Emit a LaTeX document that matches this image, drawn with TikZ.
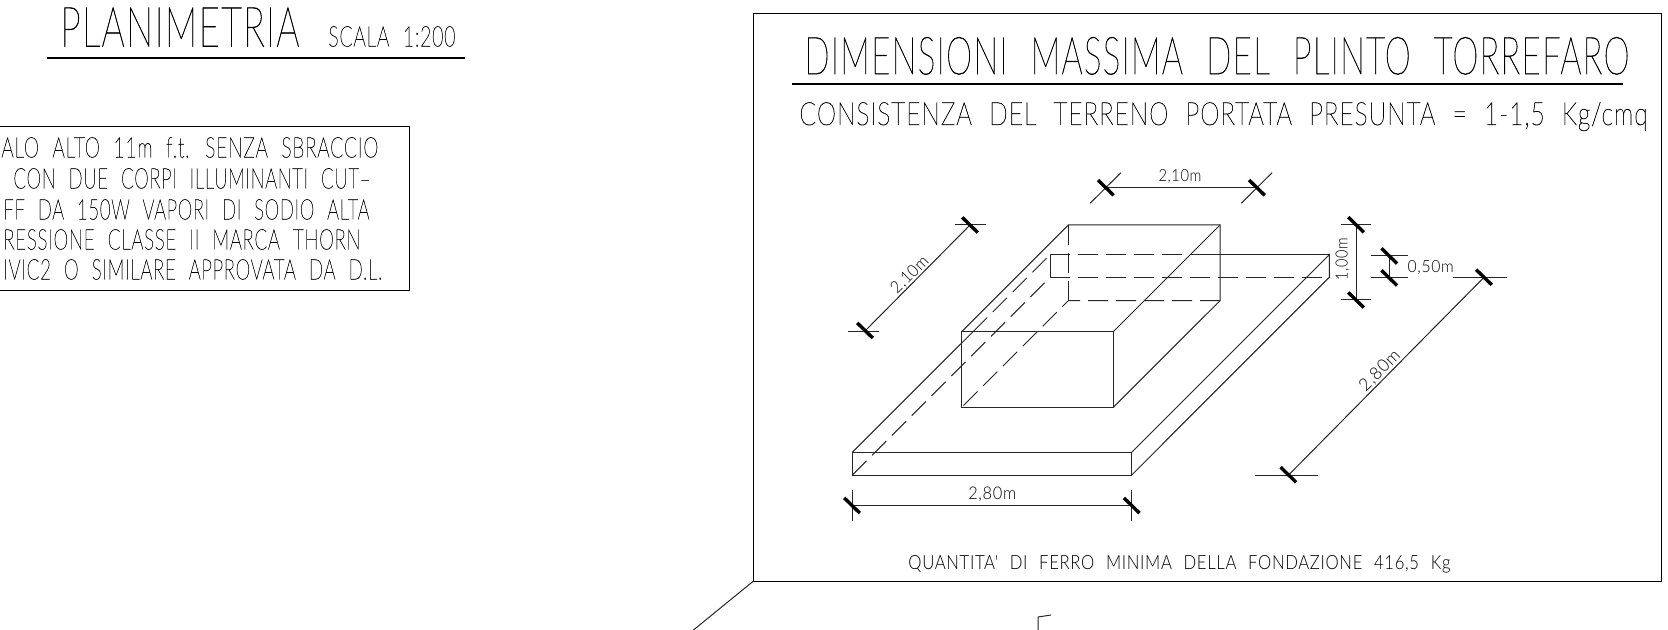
\documentclass[tikz,border=0pt]{standalone}
\usepackage{fontspec}
\usepackage{graphicx}
\newfontfamily\cadfont[LetterSpace=4.0,FakeBold=1.2]{Lato Thin}
\newfontfamily\cadlabelfont[LetterSpace=4.0]{Lato Light}
\newdimen\cadu
\cadu=.5pt
% width, height in reference pixels, then the text
\newcommand{\cadtxt}[3]{\resizebox{#1\cadu}{#2\cadu}{\cadfont\spaceskip=.7em #3}}
\newcommand{\cadlab}[3]{\resizebox{#1\cadu}{#2\cadu}{\cadlabelfont\spaceskip=.7em #3}}
\tikzset{
    thinline/.style={line width=.5pt,black!85},
    heavyline/.style={line width=.8pt,black},
    frameline/.style={line width=.5pt,black},
    dashline/.style={thinline,dash pattern=on 10pt off 4pt},
    tickmark/.style={line width=1.7pt,black},
    label/.style={inner sep=0pt,text=black}
}
\begin{document}
\begin{tikzpicture}[x=.5pt,y=-.5pt]
    \clip (0,0) rectangle (1668,630);
    \fill [white] (0,0) rectangle (1668,630);
    % Left title and note
    \node[label,anchor=south west] (plantitle) at (60,47) {\cadtxt{239}{39}{PLANIMETRIA}};
    \node[label,anchor=south west] (planscale) at (328,47) {\cadtxt{127}{20}{SCALA 1:200}};
    \draw[heavyline] (47,58) -- (465,58);
    \draw[frameline] (-5,127) -- (409,127) -- (409,290.5) -- (-5,290.5);
    \node[label,anchor=south west] (noteA) at (1,158) {\cadtxt{377}{20}{ALO ALTO 11m f.t. SENZA SBRACCIO}};
    \node[label,anchor=south west] (noteB) at (13,189) {\cadtxt{357}{20}{CON DUE CORPI ILLUMINANTI CUT–}};
    \node[label,anchor=south west] (noteC) at (3,220) {\cadtxt{366}{20}{FF DA 150W VAPORI DI SODIO ALTA}};
    \node[label,anchor=south west] (noteD) at (3,250) {\cadtxt{357}{20}{RESSIONE CLASSE II MARCA THORN}};
    \node[label,anchor=south west] (noteE) at (3,280) {\cadtxt{379}{20}{IVIC2 O SIMILARE APPROVATA DA D.L.}};
    % Frame of the plinth table
    \draw[frameline] (753.5,14) rectangle (1661,581);
    \draw[thinline] (753.5,581) -- (691,632);
    \draw[thinline] (1051,615) -- (1038,617) -- (1038,632);
    \node[label,anchor=south west] (tabletitle) at (804,75) {\cadtxt{825}{37}{DIMENSIONI MASSIMA DEL PLINTO TORREFARO}};
    \draw[heavyline] (791.5,84) -- (1623,84);
    \node[label,anchor=base west] (tablesoil) at (799,125) {\cadtxt{848}{23}{CONSISTENZA DEL TERRENO PORTATA PRESUNTA = 1-1,5 Kg/cmq}};
    \node[label,anchor=base west] (tableiron) at (908,569) {\cadlab{542}{14}{QUANTITA' DI FERRO MINIMA DELLA FONDAZIONE 416,5 Kg}};
    % Slab
    \coordinate (slabA) at (852.3,452.3);
    \coordinate (slabB) at (1131.7,452.3);
    \coordinate (slabC) at (1131.7,475);
    \coordinate (slabD) at (852.3,475);
    \coordinate (slabE) at (1329.3,254.7);
    \coordinate (slabF) at (1329.3,277.3);
    \coordinate (slabG) at (1050,254.7);
    \coordinate (slabH) at (1050,277.3);
    \draw[thinline] (slabA) -- (slabB) -- (slabC) -- (slabD) -- cycle;
    \draw[thinline] (slabA) -- (973,331.7);
    \draw[dashline] (973,331.7) -- (slabG);
    \draw[dashline] (slabD) -- (slabH);
    \draw[thinline] (slabB) -- (slabE) -- (slabF) -- (slabC);
    \draw[thinline] (slabG) -- (slabH);
    \draw[dashline] (slabG) -- (1190,254.7);
    \draw[thinline] (1190,254.7) -- (slabE);
    \draw[dashline] (slabH) -- (slabF);
    % Pillar
    \coordinate (pierA) at (961.7,331.7);
    \coordinate (pierB) at (1113.3,331.7);
    \coordinate (pierC) at (1113.3,407.3);
    \coordinate (pierD) at (961.7,407.3);
    \coordinate (pierE) at (1068.3,225);
    \coordinate (pierF) at (1220,225);
    \coordinate (pierG) at (1220,300.7);
    \coordinate (pierH) at (1068.3,300.7);
    \draw[thinline] (pierA) -- (pierB) -- (pierC) -- (pierD) -- cycle;
    \draw[thinline] (pierA) -- (pierE) -- (pierF) -- (pierG) -- (pierC);
    \draw[thinline] (pierB) -- (pierF);
    \draw[dashline] (pierE) -- (pierH);
    \draw[dashline] (pierG) -- (pierH) -- (pierD);
    % Dimension lines
    \draw[thinline] (1105.8,187.7) -- (1257,187.7);
    \draw[thinline] (865,331) -- (970,225);
    \draw[thinline] (852.3,505.3) -- (1131.7,505.3);
    \draw[thinline] (1356,224.7) -- (1356,300);
    \draw[thinline] (1389.3,256) -- (1389.3,278);
    \draw[thinline] (1484,277.3) -- (1288.3,475.3);
    % Extension lines
    \foreach \x in {1105.5,1256.7} {
        \draw[thinline] (\x-15.4,203.3) -- (\x+15.4,172.7);
    }
    \foreach \x in {852.3,1131.7} {
        \draw[thinline] (\x,490) -- (\x,520.7);
    }
    \foreach \y in {224.7,300} {
        \draw[thinline] (1340.7,\y) -- (1371.3,\y);
    }
    \foreach \y in {256,278} {
        \draw[thinline] (1371,\y) -- (1408,\y);
    }
    \draw[thinline] (848.3,331.7) -- (879,331.7);
    \draw[thinline] (955,225) -- (985.7,225);
    \draw[thinline] (1453.3,277.3) -- (1506.7,277.3);
    \draw[thinline] (1255,475.3) -- (1318.3,475.3);
    % Ticks
    \foreach \x/\y in {1105.8/187.7,1256.9/187.7,865/330.5,970/225,852/505.5,1131.7/505.5,1356/224.7,1356/300,1389.3/256,1389.3/278,1484/277.3,1288.3/474.7} {
        \draw[tickmark] (\x-7.8,\y-7.6) -- (\x+7.8,\y+7.6);
    }
    % Dimension labels
    \node[label] (dimtopw) at (1180,176.7) {\cadlab{43}{12}{2,10m}};
    \node[label,rotate=45] (dimdepth) at (910,275) {\cadlab{46}{12}{2,10m}};
    \node[label] (dimbase) at (992.3,494) {\cadlab{48}{12.5}{2,80m}};
    \node[label,rotate=90] (dimhigh) at (1342.7,259.3) {\cadlab{42}{12}{1,00m}};
    \node[label] (dimslab) at (1430.7,267.7) {\cadlab{46}{12}{0,50m}};
    \node[label,rotate=45] (dimlong) at (1380,370.7) {\cadlab{50}{12.5}{2,80m}};
\end{tikzpicture}
\end{document}
